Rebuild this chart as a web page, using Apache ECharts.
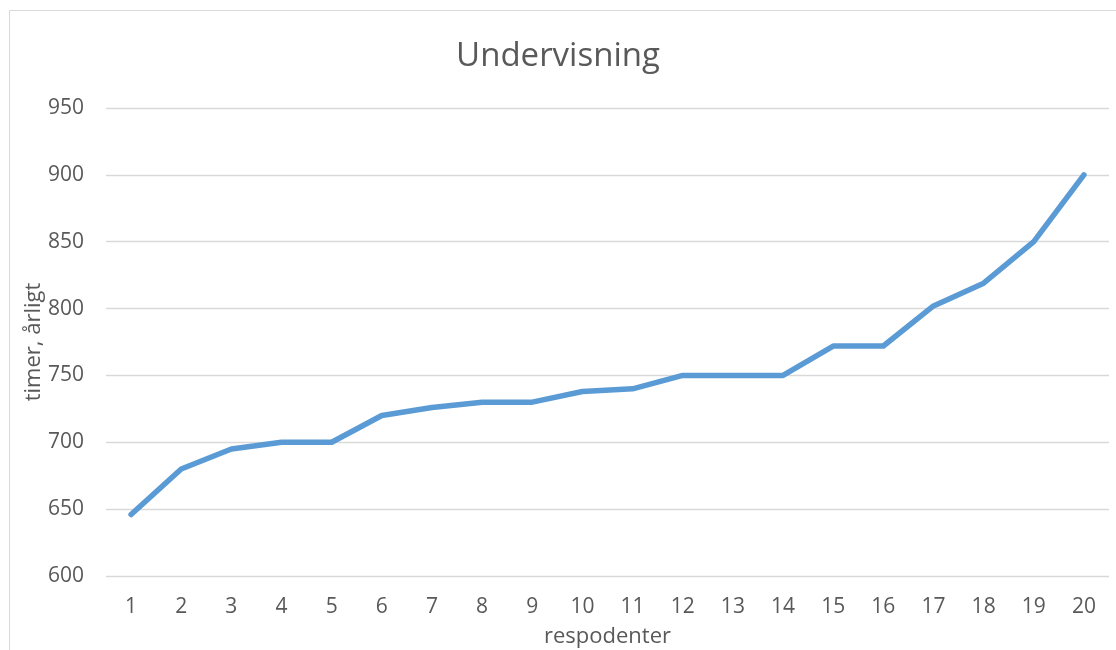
<!DOCTYPE html>
<html>
<head>
<meta charset="utf-8">
<script src="https://cdn.jsdelivr.net/npm/echarts@6/dist/echarts.min.js"></script>
<style>
  html, body { margin: 0; padding: 0; background: #fff; }
  #chart { width: 1116px; height: 650px; }
</style>
</head>
<body>
<div id="chart"></div>
<script>
// Respondents (x categories) and yearly teaching hours
const respondents = ['1','2','3','4','5','6','7','8','9','10','11','12','13','14','15','16','17','18','19','20'];
const hours = [646, 680, 695, 700, 700, 720, 726, 730, 730, 738, 740, 750, 750, 750, 772, 772, 802, 819, 850, 900];
const yTicks = { min: 600, max: 950, step: 50 };

const textColor = '#595959';
const gridColor = '#d9d9d9';
const font = '"Open Sans", "Noto Sans", sans-serif';

const chart = echarts.init(document.getElementById('chart'), null, { renderer: 'canvas' });
chart.setOption({
  animation: false,
  backgroundColor: '#ffffff',
  textStyle: { fontFamily: font },
  title: {
    text: 'Undervisning',
    left: 'center',
    top: 35,
    textStyle: { color: textColor, fontSize: 33, fontWeight: 'normal', fontFamily: font }
  },
  graphic: [{
    type: 'rect',
    silent: true,
    shape: { x: 9.5, y: 10.5, width: 1300, height: 800 },
    style: { fill: 'none', stroke: gridColor, lineWidth: 1 }
  }],
  grid: { left: 106, right: 7, top: 108, bottom: 74, containLabel: false, outerBoundsMode: 'none' },
  xAxis: {
    type: 'category',
    data: respondents,
    boundaryGap: true,
    name: 'respodenter',
    nameLocation: 'middle',
    nameGap: 50,
    nameMoveOverlap: false,
    nameTextStyle: { color: textColor, fontSize: 22, fontFamily: font },
    axisLine: { show: false },
    axisTick: { show: false },
    axisLabel: { color: textColor, fontSize: 21, margin: 21, fontFamily: font },
    splitLine: { show: false }
  },
  yAxis: {
    type: 'value',
    min: yTicks.min,
    max: yTicks.max,
    interval: yTicks.step,
    name: 'timer, årligt',
    nameLocation: 'middle',
    nameGap: 61,
    nameMoveOverlap: false,
    nameRotate: 90,
    nameTextStyle: { color: textColor, fontSize: 22, fontFamily: font },
    axisLine: { show: false },
    axisTick: { show: false },
    axisLabel: { color: textColor, fontSize: 21, margin: 22, fontFamily: font },
    splitLine: { show: true, lineStyle: { color: gridColor, width: 1.3 } }
  },
  series: [{
    type: 'line',
    data: hours,
    showSymbol: false,
    symbol: 'none',
    lineStyle: { color: '#5b9bd5', width: 5.5, cap: 'round', join: 'round' },
    itemStyle: { color: '#5b9bd5' }
  }]
});
</script>
</body>
</html>
